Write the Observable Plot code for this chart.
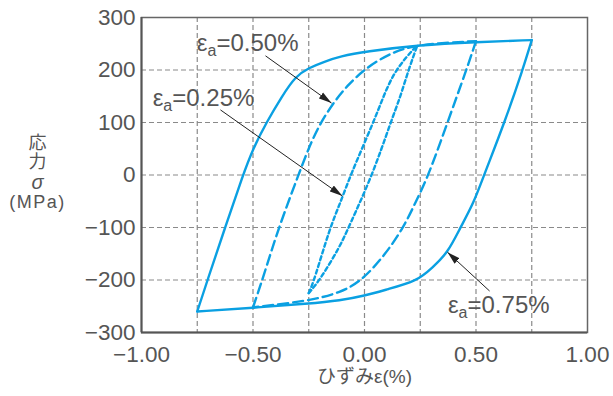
<!DOCTYPE html>
<html><head><meta charset="utf-8">
<script src="https://cdn.jsdelivr.net/npm/d3@7"></script>
<script src="https://cdn.jsdelivr.net/npm/@observablehq/plot@0.6"></script>
<style>body{margin:0;background:#fff}</style>
</head><body><div id="chart"></div>
<script>
// ---- axis ticks / grid ----
const xTicks = [-1, -0.5, 0, 0.5, 1];
const yTicks = [-300, -200, -100, 0, 100, 200, 300];
const xGrid = [-0.75, -0.5, -0.25, 0, 0.25, 0.5, 0.75];
const yGrid = [-200, -100, 0, 100, 200];
const xLabel = "ひずみε(%)";
const yLabel = "応\n力\nσ\n(MPa)";

// ---- εa = 0.75% (solid) ----
const outerUpX = [-0.75, -0.704, -0.625, -0.545, -0.5, -0.44, -0.37, -0.31, -0.25, -0.18, -0.108, 0, 0.25, 0.5, 0.75];
const outerUpY = [-260, -200, -100, 0, 50, 100, 150, 188, 204, 216, 226, 235, 248, 253, 257];
const outerDownX = [0.75, 0.709, 0.628, 0.536, 0.49, 0.43, 0.372, 0.305, 0.237, 0.1, 0, -0.108, -0.25, -0.5, -0.75];
const outerDownY = [257, 200, 100, 0, -53, -100, -149, -176, -202, -218, -230, -239, -245, -253, -260];

// ---- εa = 0.50% (dashed) ----
const midUpX = [-0.5, -0.458, -0.385, -0.296, -0.25, -0.197, -0.135, -0.08, 0, 0.117, 0.238, 0.5];
const midUpY = [-252, -200, -100, 0, 52, 100, 140, 169, 202, 233, 249, 255];
const midDownX = [0.5, 0.457, 0.372, 0.288, 0.228, 0.175, 0.094, -0.013, -0.108, -0.25, -0.5];
const midDownY = [255, 200, 100, 0, -53, -100, -151, -202, -224, -240, -252];

// ---- εa = 0.25% (dotted) ----
const innerLeftX = [-0.25, -0.225, -0.155, -0.108, -0.063, 0.04, 0.085, 0.139, 0.238];
const innerLeftY = [-225, -200, -100, -53, 0, 100, 150, 202, 248];
const innerRightX = [-0.25, -0.2, -0.108, -0.072, 0.036, 0.117, 0.161, 0.197, 0.238];
const innerRightY = [-225, -200, -135, -100, 0, 100, 149, 200, 248];

// ---- annotations ----
const annLabels = ["εa=0.50%", "εa=0.25%", "εa=0.75%"];
const annTextX = [-0.752, -0.95, 0.374];
const annTextY = [250, 147, -248];
const annX1 = [-0.444, -0.646, 0.561];
const annY1 = [227, 124, -221];
const annX2 = [-0.148, -0.099, 0.372];
const annY2 = [137, -40, -147];

const branches = [
  {name: "o-up", kind: "solid", x: outerUpX, y: outerUpY},
  {name: "o-down", kind: "solid", x: outerDownX, y: outerDownY},
  {name: "m-up", kind: "dashed", x: midUpX, y: midUpY},
  {name: "m-down", kind: "dashed", x: midDownX, y: midDownY},
  {name: "i-left", kind: "dotted", x: innerLeftX, y: innerLeftY},
  {name: "i-right", kind: "dotted", x: innerRightX, y: innerRightY}
];
const rows = branches.flatMap(b => b.x.map((x, i) => ({branch: b.name, kind: b.kind, x, y: b.y[i]})));
const ann = annLabels.map((t, i) => ({t, tx: annTextX[i], ty: annTextY[i], x1: annX1[i], y1: annY1[i], x2: annX2[i], y2: annY2[i]}));

const blue = "#0aa0e2";
const dashes = {solid: null, dashed: "10,5", dotted: "4,3"};
const latin = "'Liberation Sans', Arial, 'Noto Sans CJK JP', sans-serif";

const chart = Plot.plot({
  width: 613, height: 396,
  marginLeft: 141, marginRight: 26, marginTop: 17, marginBottom: 64,
  style: {fontFamily: latin, color: "#444", background: "#fff"},
  x: {domain: [-1, 1]},
  y: {domain: [-300, 300]},
  marks: [
    Plot.ruleX(xGrid, {stroke: "#8a8a8a", strokeWidth: 1.2, strokeDasharray: "5,3"}),
    Plot.ruleY(yGrid, {stroke: "#8a8a8a", strokeWidth: 1.2, strokeDasharray: "5,3"}),
    ...["solid", "dashed", "dotted"].map(k => Plot.line(rows.filter(d => d.kind === k), {
      x: "x", y: "y", z: "branch", curve: "basis",
      stroke: blue, strokeWidth: 2.4, strokeDasharray: dashes[k]
    })),
    Plot.link(ann, {x1: "x1", y1: "y1", x2: "x2", y2: "y2", stroke: "#222", strokeWidth: 1, markerEnd: "arrow"}),
    Plot.text(ann, {x: "tx", y: "ty", text: "t", textAnchor: "start", fontSize: 24, fill: "#555", className: "ann"}),
    Plot.frame({stroke: "#666", strokeWidth: 1.5}),
    Plot.ruleX([-1], {stroke: "#555", strokeWidth: 2}),
    Plot.ruleY([-300], {stroke: "#555", strokeWidth: 2}),
    Plot.axisX(xTicks, {tickSize: 0, tickPadding: 14, tickFormat: d3.format(".2f"), fontSize: 22.5, fill: "#555", label: null}),
    Plot.axisY(yTicks, {tickSize: 0, tickPadding: 6, fontSize: 22.5, fill: "#555", label: null}),
    Plot.text([xLabel], {frameAnchor: "bottom", dy: 50, fontSize: 19, fill: "#555"}),
    Plot.text([yLabel], {frameAnchor: "left", textAnchor: "middle", dx: -104, dy: -4, fontSize: 18, lineHeight: 1.06, fill: "#555", className: "ylab"})
  ]
});
document.getElementById("chart").append(chart);

// filled arrowheads
d3.select(chart).selectAll("marker").each(function() {
  const m = d3.select(this);
  m.attr("viewBox", "-13 -4 13 8").attr("markerWidth", 13).attr("markerHeight", 8)
   .attr("markerUnits", "userSpaceOnUse").attr("fill", "#222").attr("stroke", "none");
  m.selectAll("path").attr("d", "M-13,-3.6L0,0L-13,3.6Z");
});
// subscript "a" in εa labels
d3.select(chart).selectAll(".ann text").each(function() {
  const s = this.textContent;
  const rest = s.slice(2);
  const t = d3.select(this);
  t.text("");
  t.append("tspan").text("ε");
  t.append("tspan").attr("font-size", 16).attr("dy", 5).text("a");
  t.append("tspan").attr("dy", -5).text(rest);
});
// italic sigma, slightly spaced (MPa)
d3.select(chart).selectAll(".ylab tspan").each(function() {
  if (this.textContent === "σ") d3.select(this).attr("font-style", "italic").attr("font-size", 20);
  if (this.textContent === "(MPa)") d3.select(this).attr("letter-spacing", 1.5);
});
</script>
</body></html>
